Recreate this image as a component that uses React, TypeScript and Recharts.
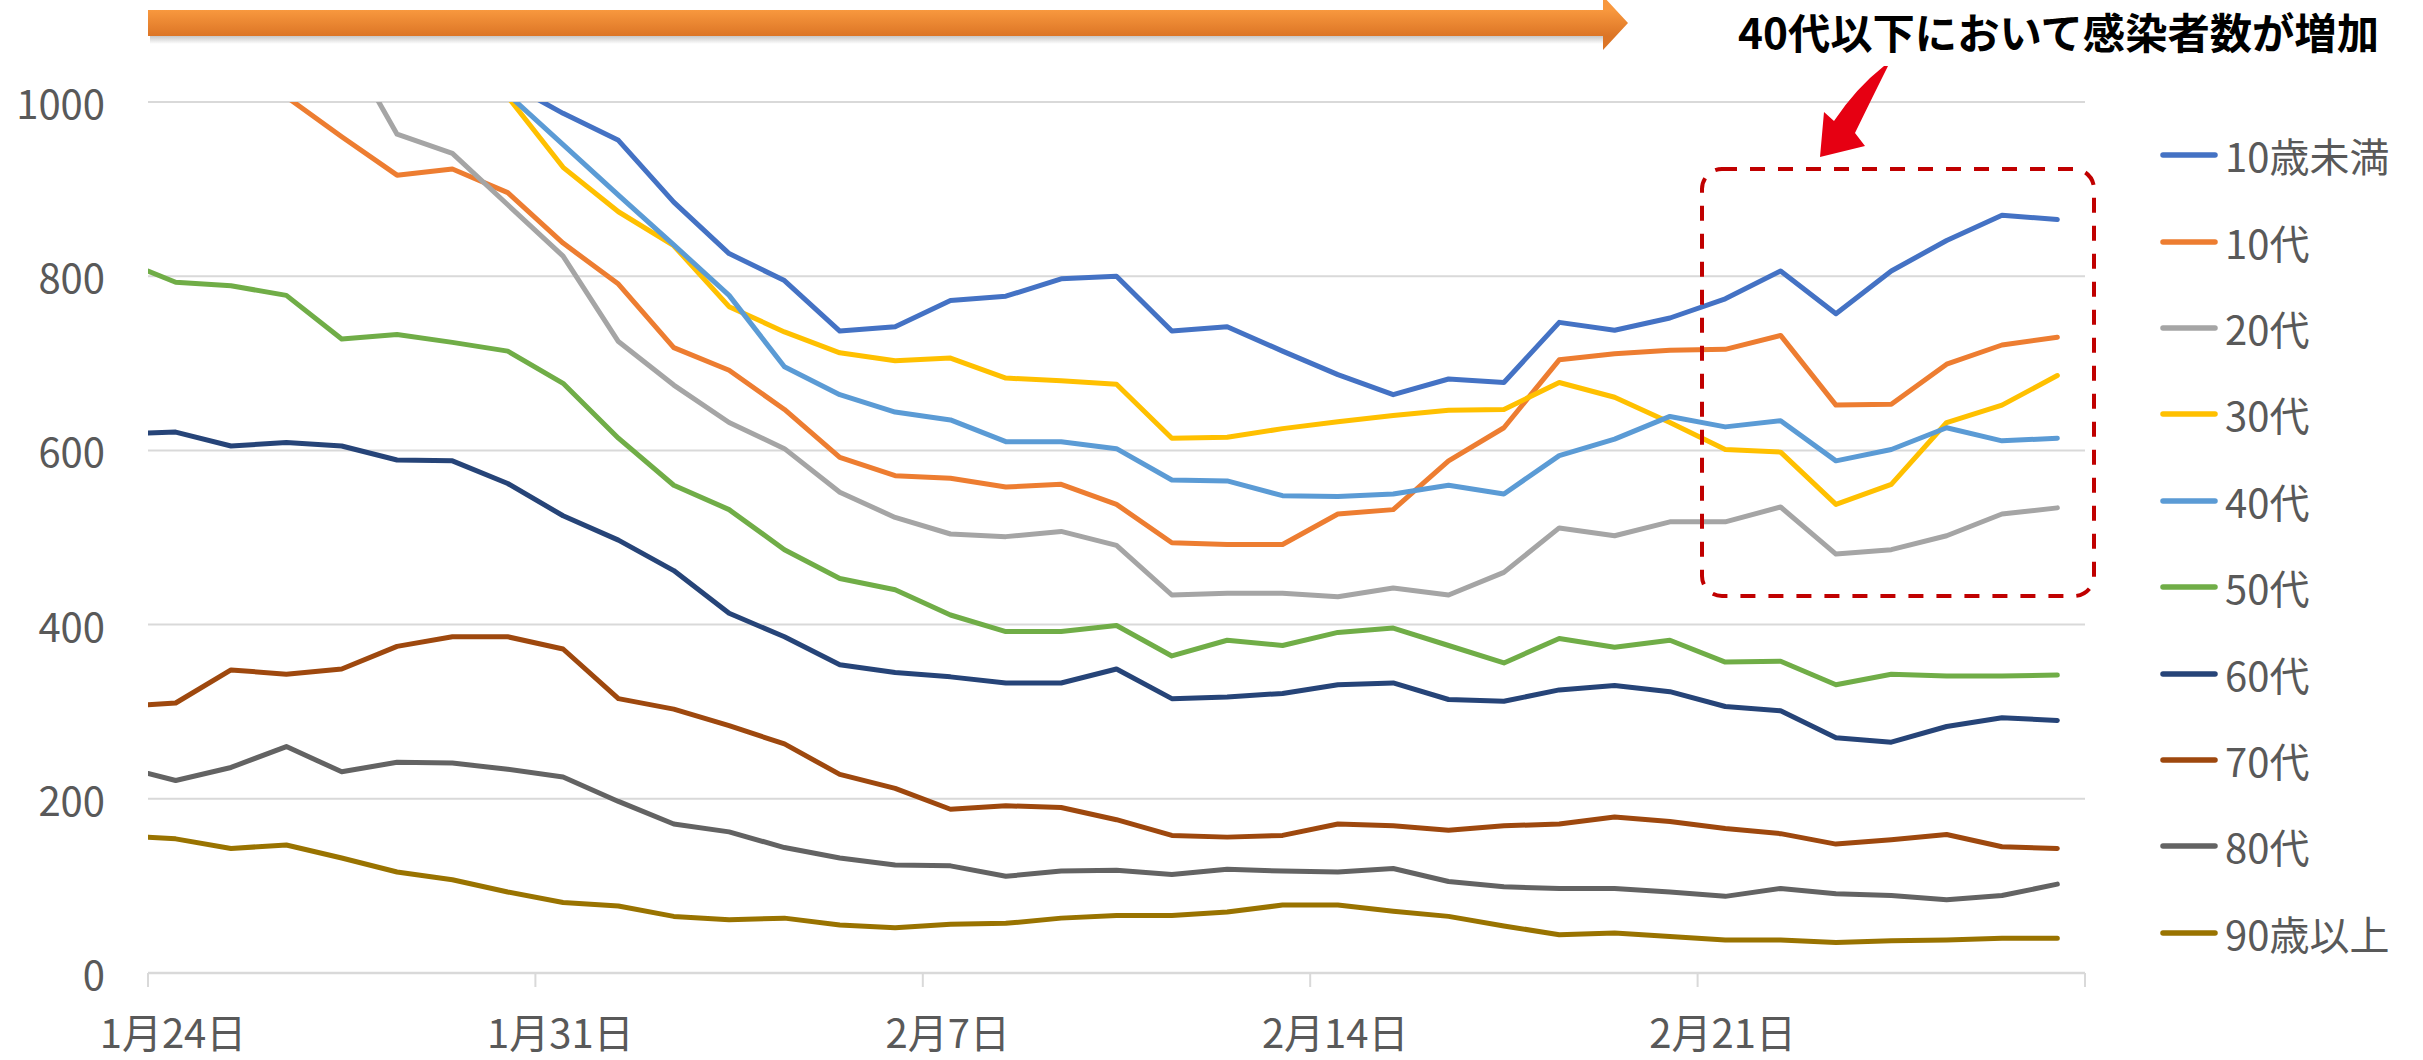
import React from 'react';
import { LineChart, Line, XAxis, YAxis, CartesianGrid, Legend } from 'recharts';

const FONT = "'Noto Sans CJK JP', 'Noto Sans', sans-serif";
const TEXT_GRAY = '#595959';
const GRID = '#D9D9D9';

// day offsets from 1/24 (Excel date axis, points sit at day centres)
const days = [
  0, 0.5, 1.5, 2.5, 3.5, 4.5, 5.5, 6.5, 7.5, 8.5, 9.5, 10.5,
  11.5, 12.5, 13.5, 14.5, 15.5, 16.5, 17.5, 18.5, 19.5, 20.5, 21.5, 22.5,
  23.5, 24.5, 25.5, 26.5, 27.5, 28.5, 29.5, 30.5, 31.5, 32.5, 33.5, 34.5,
];

const tickDays = [0, 7, 14, 21, 28, 35];
const tickLabels = ['1月24日', '1月31日', '2月7日', '2月14日', '2月21日', ''];
const yTicks = [0, 200, 400, 600, 800, 1000];

const seriesNames = ['10歳未満', '10代', '20代', '30代', '40代', '50代', '60代', '70代', '80代', '90歳以上'];
const seriesColors = ['#4472C4', '#ED7D31', '#A5A5A5', '#FFC000', '#5B9BD5', '#70AD47', '#264478', '#9E480E', '#636363', '#997300'];

const under10 = [
  1170, 1180, 1200, 1210, 1190, 1150, 1090, 1022, 987, 956, 885, 826,
  795, 737, 742, 772, 777, 797, 800, 737, 742, 714, 687, 664,
  682, 678, 747, 738, 752, 774, 806, 757, 806, 841, 870, 865,
];
const teens = [
  1100, 1090, 1050, 1006, 960, 916, 923, 896, 838, 791, 718, 692,
  647, 592, 571, 568, 558, 561, 538, 494, 492, 492, 527, 532,
  588, 626, 704, 711, 715, 716, 732, 652, 653, 699, 721, 730,
];
const twenties = [
  1165, 1170, 1160, 1130, 1075, 963, 941, 882, 823, 725, 675, 632,
  602, 552, 523, 504, 501, 507, 491, 434, 436, 436, 432, 442,
  434, 460, 511, 502, 518, 518, 535, 481, 486, 502, 527, 534,
];
const thirties = [
  1260, 1270, 1290, 1280, 1240, 1180, 1100, 1006, 925, 874, 835, 765,
  736, 712, 703, 706, 683, 680, 676, 614, 615, 625, 633, 640,
  646, 647, 678, 661, 632, 601, 598, 538, 561, 632, 652, 686,
];
const forties = [
  1230, 1240, 1260, 1250, 1210, 1150, 1080, 1009, 951, 893, 836, 778,
  696, 664, 644, 635, 610, 610, 602, 566, 565, 548, 547, 550,
  560, 550, 594, 613, 639, 627, 634, 588, 601, 626, 611, 614,
];
const fifties = [
  806, 793, 789, 778, 728, 733, 724, 714, 677, 614, 560, 532,
  486, 453, 440, 411, 392, 392, 399, 364, 382, 376, 391, 396,
  376, 356, 384, 374, 382, 357, 358, 331, 343, 341, 341, 342,
];
const sixties = [
  620, 621, 605, 609, 605, 589, 588, 562, 525, 497, 462, 413,
  386, 354, 345, 340, 333, 333, 349, 315, 317, 321, 331, 333,
  314, 312, 325, 330, 323, 306, 301, 270, 265, 283, 293, 290,
];
const seventies = [
  308, 310, 348, 343, 349, 375, 386, 386, 372, 315, 303, 284,
  263, 228, 212, 188, 192, 190, 176, 158, 156, 158, 171, 169,
  164, 169, 171, 179, 174, 166, 160, 148, 153, 159, 145, 143,
];
const eighties = [
  229, 221, 236, 260, 231, 242, 241, 234, 225, 197, 171, 162,
  144, 132, 124, 123, 111, 117, 118, 113, 119, 117, 116, 120,
  105, 99, 97, 97, 93, 88, 97, 91, 89, 84, 89, 102,
];
const over90 = [
  156, 154, 143, 147, 132, 116, 107, 93, 81, 77, 65, 61,
  63, 55, 52, 56, 57, 63, 66, 66, 70, 78, 78, 71,
  65, 54, 44, 46, 42, 38, 38, 35, 37, 38, 40, 40,
];

const seriesValues = [under10, teens, twenties, thirties, forties, fifties, sixties, seventies, eighties, over90];

const data = days.map((day, i) => {
  const row: Record<string, number> = { day };
  seriesNames.forEach((name, s) => {
    row[name] = seriesValues[s][i];
  });
  return row;
});

function XTick(props: any) {
  const { x, y, payload } = props;
  const label = tickLabels[tickDays.indexOf(payload.value)] ?? '';
  return (
    <text x={x + 25} y={y + 44} textAnchor="middle" dominantBaseline="central"
      fill={TEXT_GRAY} fontSize={40} fontFamily={FONT}>
      {label}
    </text>
  );
}

function YTick(props: any) {
  const { x, y, payload } = props;
  return (
    <text x={x} y={y} textAnchor="end" dominantBaseline="central"
      fill={TEXT_GRAY} fontSize={40} fontFamily={FONT}>
      {payload.value}
    </text>
  );
}

// keep the legend in series order (recharts sorts its payload by name)
function LegendBox(props: any) {
  const colorOf: Record<string, string> = {};
  (props.payload || []).forEach((p: any) => { colorOf[p.value] = p.color; });
  return (
    <div style={{ display: 'flex', flexDirection: 'column' }}>
      {seriesNames.map((name, i) => (
        <div key={name} style={{ height: 86.4, display: 'flex', alignItems: 'center' }}>
          <svg width={58} height={10} style={{ display: 'block' }}>
            <line x1={3} y1={5} x2={55} y2={5} stroke={colorOf[name] || seriesColors[i]}
              strokeWidth={5.5} strokeLinecap="round" />
          </svg>
          <span style={{ marginLeft: 7, fontSize: 40, lineHeight: 1, color: TEXT_GRAY, fontFamily: FONT }}>
            {name}
          </span>
        </div>
      ))}
    </div>
  );
}

function Annotations() {
  return (
    <svg width={2423} height={1060}
      style={{ position: 'absolute', left: 0, top: 0, pointerEvents: 'none' }}>
      <defs>
        <linearGradient id="arrowFill" gradientUnits="userSpaceOnUse" x1="0" y1="10" x2="0" y2="36">
          <stop offset="0%" stopColor="#F8983E" />
          <stop offset="100%" stopColor="#DC7526" />
        </linearGradient>
        <linearGradient id="arrowShadow" x1="0" y1="0" x2="0" y2="1">
          <stop offset="0%" stopColor="rgba(0,0,0,0.22)" />
          <stop offset="100%" stopColor="rgba(0,0,0,0)" />
        </linearGradient>
      </defs>
      {/* orange period arrow */}
      <rect x={150} y={36} width={1453} height={8} fill="url(#arrowShadow)" />
      <path d="M148 10 H1603 V-4 L1628 23 L1603 50 V36 H148 Z" fill="url(#arrowFill)" />
      {/* headline */}
      <text x={1738} y={30} dominantBaseline="central" fontSize={42} fontWeight={700}
        fill="#000" fontFamily={FONT} textLength={641} lengthAdjust="spacingAndGlyphs">
        40代以下において感染者数が増加
      </text>
      {/* red pointer */}
      <path d="M1888 66 Q1874 94 1855 133 L1865 146 L1820 157 L1824 112 L1834 121 Q1856 88 1884 66 Z"
        fill="#E60012" />
      {/* highlight box */}
      <rect x={1702} y={169} width={392} height={427} rx={20} fill="none"
        stroke="#C00000" strokeWidth={4} strokeDasharray="15 13" />
    </svg>
  );
}

export default function App() {
  return (
    <div style={{ position: 'absolute', left: 0, top: 0, width: 2423, height: 1060, background: '#fff' }}>
      <LineChart width={2423} height={1060} data={data}
        margin={{ top: 102, right: 338, bottom: 0, left: 0 }}>
        <CartesianGrid stroke={GRID} strokeWidth={2} vertical={false} />
        <XAxis
          dataKey="day"
          type="number"
          domain={[0, 35]}
          ticks={tickDays}
          interval={0}
          allowDataOverflow
          height={87}
          axisLine={{ stroke: GRID, strokeWidth: 2.5 }}
          tickLine={{ stroke: GRID, strokeWidth: 2 }}
          tickSize={14}
          tickMargin={0}
          tick={<XTick />}
        />
        <YAxis
          domain={[0, 1000]}
          ticks={yTicks}
          interval={0}
          allowDataOverflow
          width={148}
          axisLine={false}
          tickLine={false}
          tickSize={0}
          tickMargin={43}
          tick={<YTick />}
        />
        <Legend
          layout="vertical"
          align="center"
          verticalAlign="middle"
          wrapperStyle={{ left: 2160, top: 112, width: 263 }}
          content={<LegendBox />}
        />
        {seriesNames.map((name, i) => (
          <Line
            key={name}
            type="linear"
            dataKey={name}
            stroke={seriesColors[i]}
            strokeWidth={5}
            strokeLinejoin="round"
            strokeLinecap="round"
            dot={false}
            activeDot={false}
            isAnimationActive={false}
          />
        ))}
      </LineChart>
      <Annotations />
    </div>
  );
}
